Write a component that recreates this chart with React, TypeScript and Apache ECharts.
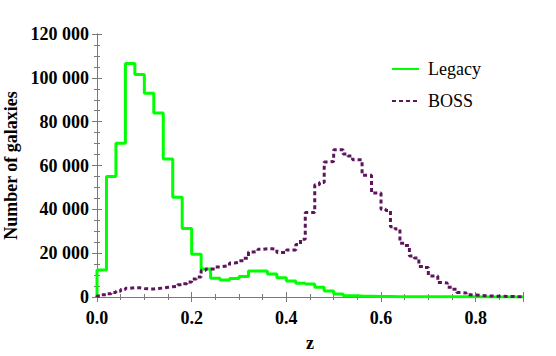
import React, { useEffect, useRef } from "react";
import * as echarts from "echarts";

// Legacy histogram: bins of width 0.02 starting at z = 0 (counts in thousands)
const legacyBinWidth = 0.02;
const legacyCounts = [
  12.3, 55, 70.2, 106.5, 101.5, 93, 84, 63, 45.5, 31.3,
  19.5, 12.8, 8.5, 7.8, 8.4, 9.3, 11.9, 11.9, 10.5, 8.8,
  7.3, 6.3, 5.9, 4.4, 2.7, 1.4, 0.6, 0.4, 0.3, 0.2,
  0.2, 0.1, 0.1, 0.1, 0.1, 0.1, 0.1, 0.1, 0.1, 0.1,
  0.05, 0.05, 0.05, 0.05, 0.05,
];

// BOSS histogram: bins of width 0.01 starting at z = 0 (counts in thousands)
const bossBinWidth = 0.01;
const bossCounts = [
  0.5, 1.0, 1.5, 2.1, 2.6, 3.4, 4.0, 4.2, 4.2, 3.9,
  3.7, 3.7, 3.9, 4.1, 4.4, 4.7, 4.9, 5.6, 6.1, 6.9,
  8.2, 9.1, 12.2, 12.8, 12.8, 13.7, 14.0, 14.3, 15.5, 15.8,
  16.5, 17.7, 20.5, 20.8, 21.8, 22.0, 22.0, 21.8, 20.3, 20.3,
  21.5, 21.5, 24.0, 26.4, 38.5, 38.5, 51.2, 52.3, 61.6, 61.8,
  67.2, 67.2, 65.2, 64.3, 62.6, 62.6, 55.5, 55.5, 47.4, 47.4,
  40.0, 39.5, 32.0, 31.0, 24.5, 23.5, 18.7, 17.8, 13.9, 13.5,
  9.6, 9.6, 6.6, 6.4, 4.5, 3.5, 2.1, 1.8, 1.0, 0.9,
  0.8, 0.6, 0.5, 0.4, 0.3, 0.3, 0.2, 0.2, 0.1, 0.1,
];

const seriesNames = ["Legacy", "BOSS"];
const xTicks = { min: 0, max: 0.9, interval: 0.2 };
const yTicks = { min: 0, max: 120000, interval: 20000 };

function stepData(counts: number[], width: number): number[][] {
  const pts: number[][] = [[0, 0]];
  counts.forEach((c, i) => pts.push([+(i * width).toFixed(4), c * 1000]));
  pts.push([+(counts.length * width).toFixed(4), counts[counts.length - 1] * 1000]);
  return pts;
}

const FONT = "Times New Roman, Liberation Serif, serif";
const AXIS_COLOR = "#7a7a7a";

export default function App() {
  const ref = useRef<HTMLDivElement>(null);
  useEffect(() => {
    if (!ref.current) return;
    const chart = echarts.init(ref.current, undefined, { renderer: "svg" });
    const tickCommon = {
      axisLine: { show: true, lineStyle: { color: AXIS_COLOR, width: 1 } },
      axisTick: { show: true, inside: true, length: 5, lineStyle: { color: AXIS_COLOR } },
      minorTick: { show: true, splitNumber: 4, length: 3, lineStyle: { color: AXIS_COLOR } },
      splitLine: { show: false },
      minorSplitLine: { show: false },
    };
    chart.setOption({
      animation: false,
      backgroundColor: "#ffffff",
      grid: {
        left: 97,
        right: 33,
        top: 34,
        bottom: 59,
        containLabel: false,
        outerBoundsMode: "none",
      },
      legend: {
        data: seriesNames,
        orient: "vertical",
        left: 386,
        top: 55,
        itemWidth: 27,
        itemHeight: 14,
        itemGap: 14,
        itemStyle: { opacity: 0 },
        textStyle: { fontFamily: FONT, fontSize: 18, color: "#000", padding: [0, 0, 0, 4] },
      },
      xAxis: [
        {
          type: "value",
          ...xTicks,
          name: "z",
          nameLocation: "middle",
          nameGap: 37,
          nameTextStyle: { fontFamily: FONT, fontSize: 18, fontWeight: "bold", color: "#000" },
          axisLabel: {
            fontFamily: FONT,
            fontSize: 18,
            fontWeight: "bold",
            color: "#000",
            margin: 12,
            showMaxLabel: false,
            formatter: (v: number) => v.toFixed(1),
          },
          ...tickCommon,
        },
        {
          type: "value",
          position: "top",
          ...xTicks,
          axisLabel: { show: false },
          ...tickCommon,
        },
      ],
      yAxis: [
        {
          type: "value",
          ...yTicks,
          name: "Number of galaxies",
          nameLocation: "middle",
          nameGap: 69,
          nameRotate: 90,
          nameTextStyle: { fontFamily: FONT, fontSize: 18, fontWeight: "bold", color: "#000" },
          axisLabel: {
            fontFamily: FONT,
            fontSize: 18,
            fontWeight: "bold",
            color: "#000",
            margin: 8,
            formatter: (v: number) =>
              v >= 1000 ? `${Math.floor(v / 1000)} ${String(v % 1000).padStart(3, "0")}` : String(v),
          },
          ...tickCommon,
        },
        {
          type: "value",
          position: "right",
          ...yTicks,
          axisLabel: { show: false },
          ...tickCommon,
        },
      ],
      series: [
        {
          name: seriesNames[0],
          type: "line",
          step: "end",
          xAxisIndex: 0,
          yAxisIndex: 0,
          symbol: "none",
          showSymbol: false,
          data: stepData(legacyCounts, legacyBinWidth),
          itemStyle: { color: "#00ff00" },
          lineStyle: { color: "#00ff00", width: 3 },
          clip: true,
        },
        {
          name: seriesNames[1],
          type: "line",
          step: "end",
          xAxisIndex: 0,
          yAxisIndex: 0,
          symbol: "none",
          showSymbol: false,
          data: stepData(bossCounts, bossBinWidth),
          itemStyle: { color: "#5e155e" },
          lineStyle: { color: "#5e155e", width: 3, type: [4, 3] },
          clip: true,
        },
      ],
    });
    return () => chart.dispose();
  }, []);
  return (
    <div
      ref={ref}
      style={{ position: "fixed", left: 0, top: 0, width: 556, height: 356, background: "#fff" }}
    />
  );
}
